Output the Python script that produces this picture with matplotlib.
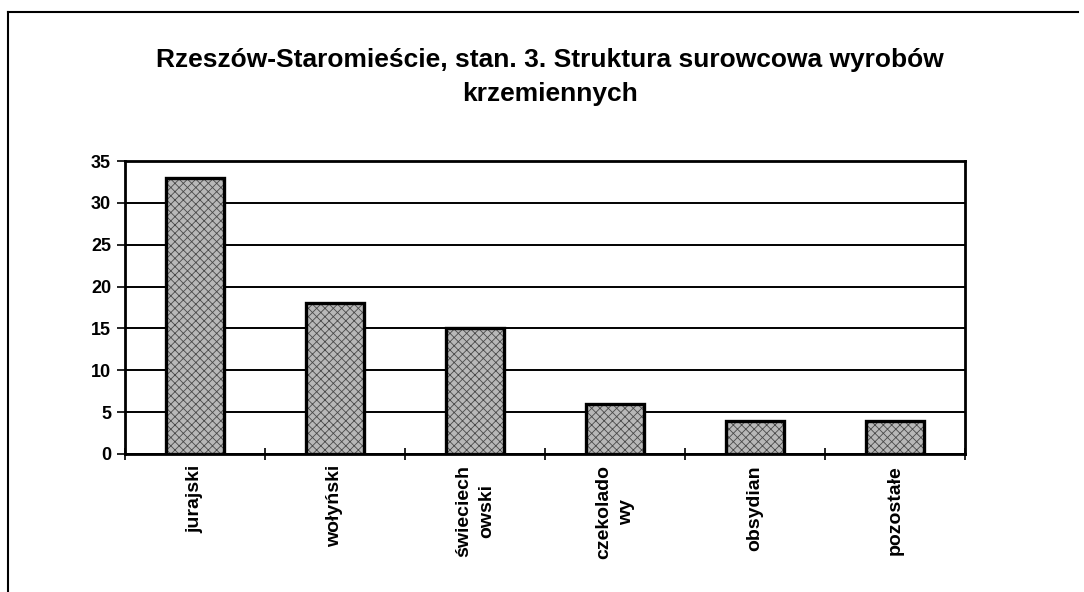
import matplotlib
matplotlib.use("Agg")
import matplotlib.pyplot as plt
from matplotlib.lines import Line2D
import numpy as np

categories = ["jurajski", "wołyński", "świeciech\nowski", "czekolado\nwy", "obsydian", "pozostałe"]
values = [33, 18, 15, 6, 4, 4]
yticks = [0, 5, 10, 15, 20, 25, 30, 35]
title = "Rzeszów-Staromieście, stan. 3. Struktura surowcowa wyrobów\nkrzemiennych"

plt.rcParams['font.family'] = ['Liberation Sans', 'DejaVu Sans']
plt.rcParams['hatch.linewidth'] = 0.6

fig = plt.figure(figsize=(10.84, 5.92), dpi=100)
ax = fig.add_axes([125/1084, 1-454/592, (965-125)/1084, (454-161)/592])

x = np.arange(len(categories))
ax.bar(x, values, width=0.41, color='#b8b8b8', edgecolor='#4a4a4a', hatch='xxxx', linewidth=0, zorder=3)
ax.bar(x, values, width=0.41, fill=False, edgecolor='black', linewidth=2.4, zorder=4)

ax.set_xlim(-0.5, len(categories) - 0.5)
ax.set_ylim(0, 35)
ax.set_yticks(yticks)
ax.set_yticklabels([str(v) for v in yticks], fontsize=13, fontweight='bold')
ax.yaxis.grid(True, color='black', linewidth=1.4, zorder=1)
ax.set_axisbelow(True)

ax.set_xticks(np.arange(len(categories) + 1) - 0.5)
ax.set_xticklabels([])
ax.set_xticks(x, minor=True)
ax.set_xticklabels(categories, minor=True, rotation=90, fontsize=14, fontweight='bold',
                   va='top', ha='center', linespacing=1.45)
ax.tick_params(axis='x', which='minor', length=0, pad=8)
ax.tick_params(axis='x', which='major', direction='inout', length=9, width=1.2)
ax.tick_params(axis='y', direction='out', length=6, width=1.2, pad=4)

for s in ['left', 'right', 'bottom', 'top']:
    ax.spines[s].set_linewidth(2)
    ax.spines[s].set_color('black')

fig.text(550/1084, 1-77/592, title, ha='center', va='center', fontsize=19,
         fontweight='bold', linespacing=1.55)

# outer frame (left and top visible)
fig.add_artist(Line2D([8/1084, 8/1084], [0, 1-12/592], transform=fig.transFigure, color='black', linewidth=1.5))
fig.add_artist(Line2D([8/1084, 1078/1084], [1-12/592, 1-12/592], transform=fig.transFigure, color='black', linewidth=1.5))

fig.savefig("out.png", dpi=100, facecolor='white')
